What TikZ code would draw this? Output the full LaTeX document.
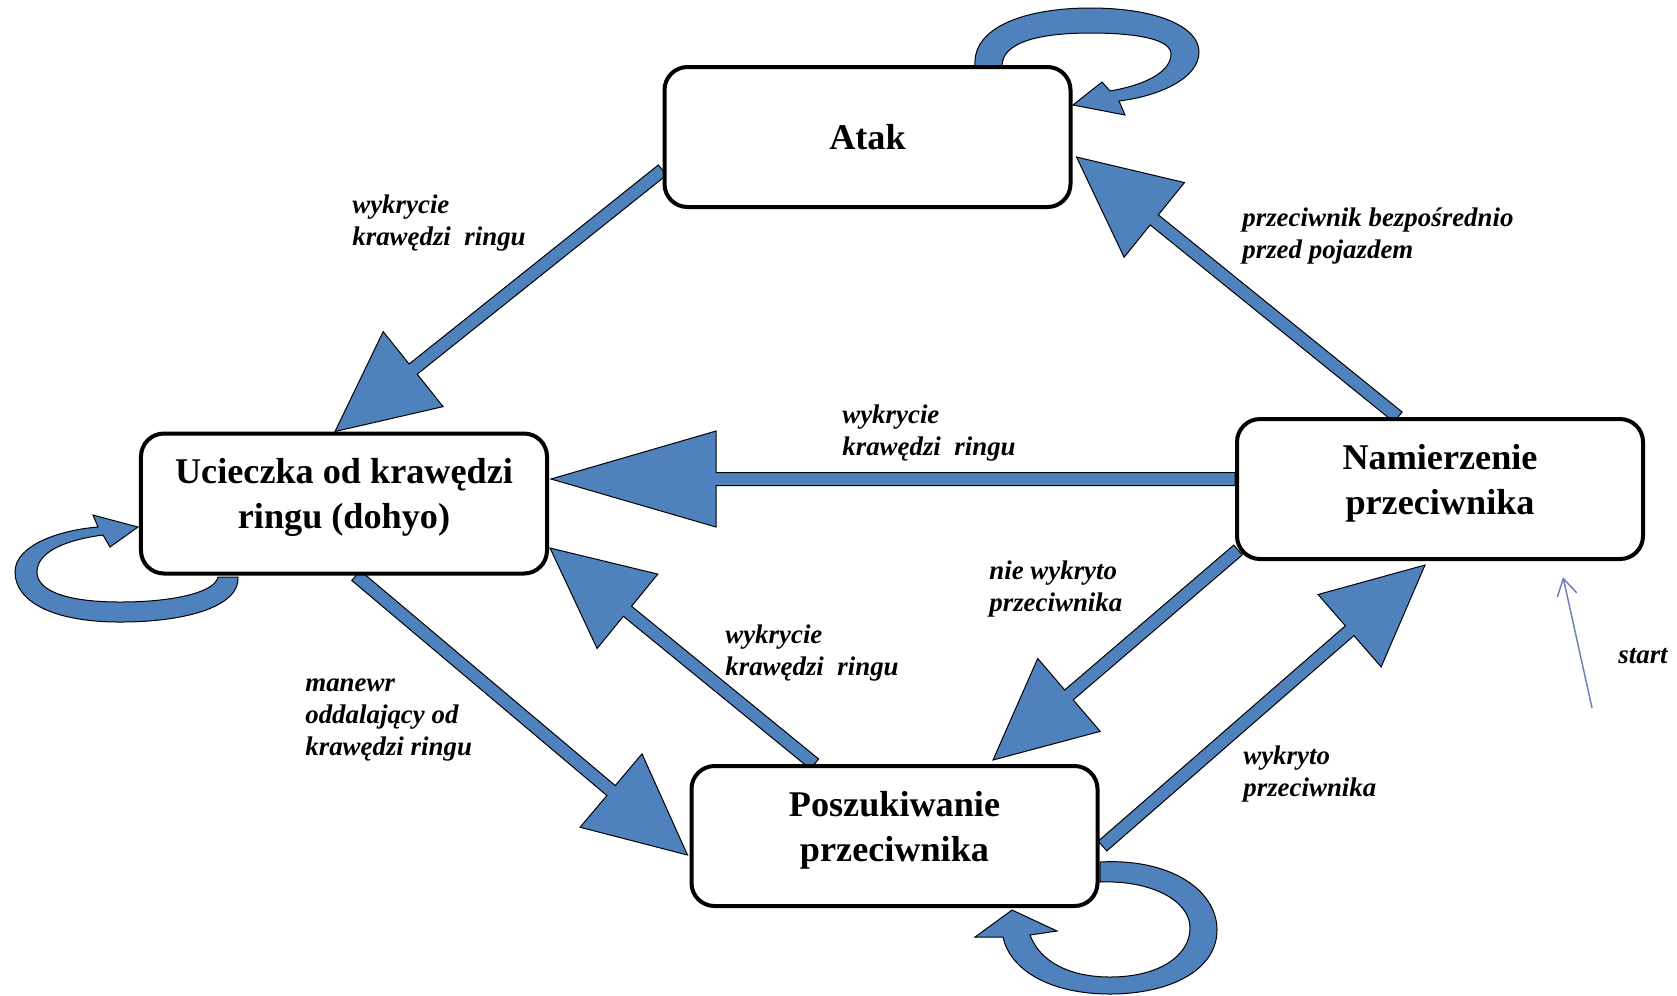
\documentclass[tikz,border=0pt]{standalone}
\usepackage{fontspec}
\setmainfont{Liberation Serif}
\usetikzlibrary{calc,arrows.meta,backgrounds}
\definecolor{fatblue}{HTML}{4F81BD}
\definecolor{startblue}{HTML}{7080B8}
\tikzset{
  state/.style={draw,line width=0.8mm,rounded corners=4.6mm,fill=white,
    minimum width=81.2mm,minimum height=28mm,align=center,
    font=\fontsize{20.6}{25.6}\selectfont\bfseries},
  twoline/.style={text depth=4mm},
  cond/.style={align=left,inner sep=0pt,anchor=west,
    font=\fontsize{15.3}{18.2}\selectfont\bfseries\itshape},
  fatarrow/.style={fill=fatblue,draw=black,line width=0.2mm},
  startline/.style={draw=startblue,line width=0.3mm,
    -{Straight Barb[length=3.4mm,width=4mm]}},
}
\newcommand\fatarr[3][20mm]{%
  \coordinate (hb) at ($(#3)!#1!(#2)$);
  \filldraw[fatarrow] ($(#2)!1.3mm!90:(#3)$) -- ($(hb)!1.3mm!90:(#3)$)
    -- ($(hb)!9.6mm!90:(#3)$) -- (#3) -- ($(hb)!9.6mm!-90:(#3)$)
    -- ($(hb)!1.3mm!-90:(#3)$) -- ($(#2)!1.3mm!-90:(#3)$) -- cycle;}
\begin{document}
\begin{tikzpicture}[x=0.2mm,y=-0.2mm]
\useasboundingbox (0,0) rectangle (1677,995);
\node[state] (atak) at (867.5,137) {Atak};
\node[state,twoline] (ucieczka) at (344,503.5) {Ucieczka od krawędzi\\ringu (dohyo)};
\node[state,twoline] (namierz) at (1440,489) {Namierzenie\\przeciwnika};
\node[state,twoline] (poszuk) at (894.5,836) {Poszukiwanie\\przeciwnika};
\coordinate (a1s) at ($(atak.west)+(0,33)$);
\coordinate (a1e) at ($(ucieczka.north)+(-9,0)$);
\coordinate (a2s) at ($(namierz.north)+(-42,0)$);
\coordinate (a2e) at ($(atak.east)+(4,20)$);
\coordinate (a3s) at ($(namierz.west)+(0,-10)$);
\coordinate (a3e) at ($(ucieczka.east)+(2,-24.5)$);
\coordinate (a4s) at ($(ucieczka.south)+(12,0)$);
\coordinate (a4e) at ($(poszuk.west)+(-2,19)$);
\coordinate (a5s) at ($(poszuk.north)+(-80,0)$);
\coordinate (a5e) at ($(ucieczka.east)+(1,44.5)$);
\coordinate (a6s) at ($(namierz.south west)+(3,-11)$);
\coordinate (a6e) at ($(poszuk.north)+(98.5,-4)$);
\coordinate (a7s) at ($(poszuk.east)+(3,10)$);
\coordinate (a7e) at ($(namierz.south)+(-15,4)$);
\begin{scope}[on background layer]
\fatarr{a1s}{a1e}
\fatarr{a2s}{a2e}
\fatarr[33mm]{a3s}{a3e}
\fatarr{a4s}{a4e}
\fatarr{a5s}{a5e}
\fatarr{a6s}{a6e}
\fatarr{a7s}{a7e}
\filldraw[fatarrow] (975,66) .. controls (972,25) and (1030,8) .. (1090,8)
  .. controls (1160,8) and (1199,28) .. (1199,52)
  .. controls (1199,78) and (1160,96) .. (1119,101)
  -- (1125,115) -- (1073,105) -- (1102,82) -- (1110,91)
  .. controls (1150,84) and (1171,70) .. (1171,54)
  .. controls (1171,40) and (1140,33) .. (1090,33)
  .. controls (1040,33) and (1002,42) .. (1002,66) -- cycle;
\filldraw[fatarrow] (238,577) .. controls (240,605) and (190,622) .. (120,622)
  .. controls (50,622) and (15,600) .. (15,572)
  .. controls (15,545) and (60,530) .. (98,527)
  -- (93,515) -- (138,527) -- (110,547) -- (103,535)
  .. controls (65,540) and (37,552) .. (37,572)
  .. controls (37,592) and (70,602) .. (120,602)
  .. controls (175,602) and (215,592) .. (218,577) -- cycle;
\filldraw[fatarrow] (1100,862) .. controls (1170,858) and (1217,890) .. (1217,930)
  .. controls (1217,970) and (1170,994) .. (1110,994)
  .. controls (1050,994) and (1010,970) .. (1003,937)
  -- (975,937) -- (1012,910) -- (1057,931) -- (1030,935)
  .. controls (1040,962) and (1070,977) .. (1110,977)
  .. controls (1160,977) and (1190,955) .. (1190,928)
  .. controls (1190,900) and (1150,880) .. (1100,882) -- cycle;
\end{scope}
\node[cond] (c1) at (352,223) {wykrycie\\krawędzi\ \ ringu};
\node[cond] (c2) at (1242,236) {przeciwnik bezpośrednio\\przed pojazdem};
\node[cond] (c3) at (842,433) {wykrycie\\krawędzi\ \ ringu};
\node[cond] (c4) at (989,589) {nie wykryto\\przeciwnika};
\node[cond] (c5) at (725,653) {wykrycie\\krawędzi\ \ ringu};
\node[cond] (c6) at (305,720) {manewr\\oddalający od\\krawędzi ringu};
\node[cond] (c7) at (1243,774) {wykryto\\przeciwnika};
\node[cond] (st) at (1618,656) {start};
\coordinate (st0) at (1592,708);
\coordinate (st1) at ($(namierz.south)+(123,16)$);
\draw[startline] (st0) -- (st1);
\end{tikzpicture}
\end{document}
